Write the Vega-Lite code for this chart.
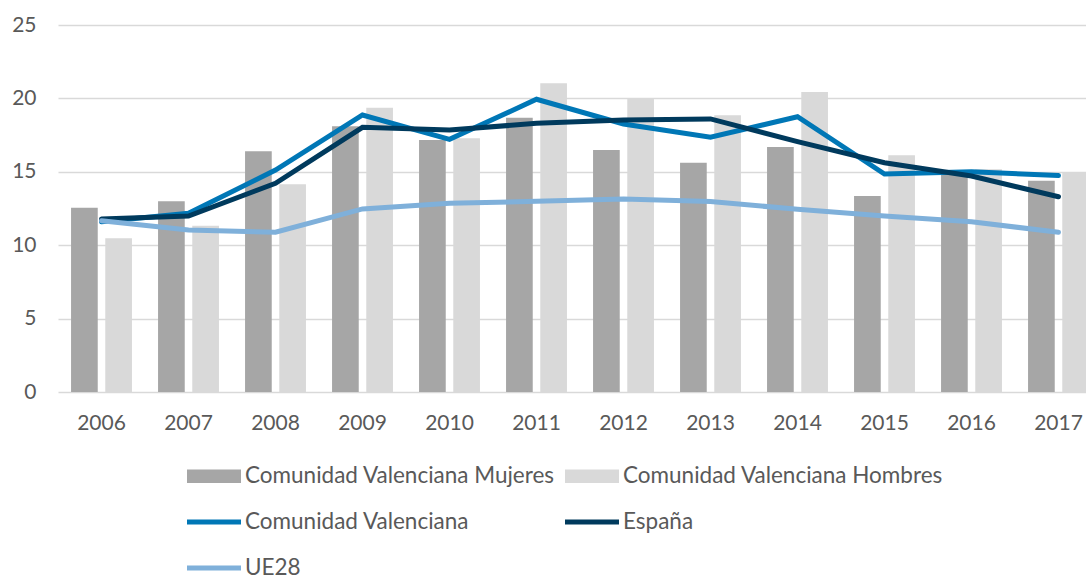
{
  "$schema": "https://vega.github.io/schema/vega-lite/v6.json",
  "width": 1028,
  "height": 367,
  "autosize": {"type": "none"},
  "padding": {"left": 58, "top": 25, "right": 0, "bottom": 183},
  "background": "white",
  "config": {
    "view": {"stroke": null},
    "font": "Lato",
    "axis": {"labelFont": "Lato", "labelFontSize": 21, "labelColor": "#595959", "title": null, "domain": false, "ticks": false},
    "legend": {"labelFont": "Lato"}
  },
  "data": {
    "values": [
      {"year": 2006, "serie": "Comunidad Valenciana Mujeres", "value": 12.55},
      {"year": 2007, "serie": "Comunidad Valenciana Mujeres", "value": 13.0},
      {"year": 2008, "serie": "Comunidad Valenciana Mujeres", "value": 16.4},
      {"year": 2009, "serie": "Comunidad Valenciana Mujeres", "value": 18.1},
      {"year": 2010, "serie": "Comunidad Valenciana Mujeres", "value": 17.17},
      {"year": 2011, "serie": "Comunidad Valenciana Mujeres", "value": 18.69},
      {"year": 2012, "serie": "Comunidad Valenciana Mujeres", "value": 16.49},
      {"year": 2013, "serie": "Comunidad Valenciana Mujeres", "value": 15.62},
      {"year": 2014, "serie": "Comunidad Valenciana Mujeres", "value": 16.69},
      {"year": 2015, "serie": "Comunidad Valenciana Mujeres", "value": 13.35},
      {"year": 2016, "serie": "Comunidad Valenciana Mujeres", "value": 14.85},
      {"year": 2017, "serie": "Comunidad Valenciana Mujeres", "value": 14.39},
      {"year": 2006, "serie": "Comunidad Valenciana Hombres", "value": 10.47},
      {"year": 2007, "serie": "Comunidad Valenciana Hombres", "value": 11.33},
      {"year": 2008, "serie": "Comunidad Valenciana Hombres", "value": 14.15},
      {"year": 2009, "serie": "Comunidad Valenciana Hombres", "value": 19.37},
      {"year": 2010, "serie": "Comunidad Valenciana Hombres", "value": 17.28},
      {"year": 2011, "serie": "Comunidad Valenciana Hombres", "value": 21.03},
      {"year": 2012, "serie": "Comunidad Valenciana Hombres", "value": 19.96},
      {"year": 2013, "serie": "Comunidad Valenciana Hombres", "value": 18.85},
      {"year": 2014, "serie": "Comunidad Valenciana Hombres", "value": 20.44},
      {"year": 2015, "serie": "Comunidad Valenciana Hombres", "value": 16.12},
      {"year": 2016, "serie": "Comunidad Valenciana Hombres", "value": 15.17},
      {"year": 2017, "serie": "Comunidad Valenciana Hombres", "value": 14.99},
      {"year": 2006, "serie": "Comunidad Valenciana", "value": 11.6},
      {"year": 2007, "serie": "Comunidad Valenciana", "value": 12.17},
      {"year": 2008, "serie": "Comunidad Valenciana", "value": 15.12},
      {"year": 2009, "serie": "Comunidad Valenciana", "value": 18.87},
      {"year": 2010, "serie": "Comunidad Valenciana", "value": 17.21},
      {"year": 2011, "serie": "Comunidad Valenciana", "value": 19.94},
      {"year": 2012, "serie": "Comunidad Valenciana", "value": 18.26},
      {"year": 2013, "serie": "Comunidad Valenciana", "value": 17.35},
      {"year": 2014, "serie": "Comunidad Valenciana", "value": 18.75},
      {"year": 2015, "serie": "Comunidad Valenciana", "value": 14.85},
      {"year": 2016, "serie": "Comunidad Valenciana", "value": 15.01},
      {"year": 2017, "serie": "Comunidad Valenciana", "value": 14.74},
      {"year": 2006, "serie": "España", "value": 11.78},
      {"year": 2007, "serie": "España", "value": 11.99},
      {"year": 2008, "serie": "España", "value": 14.22},
      {"year": 2009, "serie": "España", "value": 18.03},
      {"year": 2010, "serie": "España", "value": 17.85},
      {"year": 2011, "serie": "España", "value": 18.3},
      {"year": 2012, "serie": "España", "value": 18.53},
      {"year": 2013, "serie": "España", "value": 18.6},
      {"year": 2014, "serie": "España", "value": 17.05},
      {"year": 2015, "serie": "España", "value": 15.62},
      {"year": 2016, "serie": "España", "value": 14.71},
      {"year": 2017, "serie": "España", "value": 13.3},
      {"year": 2006, "serie": "UE28", "value": 11.67},
      {"year": 2007, "serie": "UE28", "value": 11.03},
      {"year": 2008, "serie": "UE28", "value": 10.88},
      {"year": 2009, "serie": "UE28", "value": 12.47},
      {"year": 2010, "serie": "UE28", "value": 12.85},
      {"year": 2011, "serie": "UE28", "value": 12.99},
      {"year": 2012, "serie": "UE28", "value": 13.15},
      {"year": 2013, "serie": "UE28", "value": 12.97},
      {"year": 2014, "serie": "UE28", "value": 12.45},
      {"year": 2015, "serie": "UE28", "value": 11.99},
      {"year": 2016, "serie": "UE28", "value": 11.6},
      {"year": 2017, "serie": "UE28", "value": 10.88}
    ]
  },
  "encoding": {
    "x": {
      "field": "year",
      "type": "ordinal",
      "scale": {"range": [0, 1044], "paddingInner": 0.3, "paddingOuter": 0.15},
      "axis": {"labelAngle": 0, "labelPadding": 20, "grid": false}
    },
    "y": {
      "field": "value",
      "type": "quantitative",
      "scale": {"domain": [0, 25]},
      "axis": {"values": [0, 5, 10, 15, 20, 25], "grid": true, "gridColor": "#d9d9d9", "gridWidth": 1.5, "labelPadding": 22}
    },
    "color": {
      "field": "serie",
      "type": "nominal",
      "scale": {
        "domain": ["Comunidad Valenciana Mujeres", "Comunidad Valenciana Hombres", "Comunidad Valenciana", "España", "UE28"],
        "range": ["#a6a6a6", "#d9d9d9", "#0077b6", "#003a5d", "#7fb0da"]
      },
      "legend": {
        "title": null,
        "orient": "none",
        "legendX": 129,
        "legendY": 424,
        "columns": 2,
        "direction": "horizontal",
        "padding": 0,
        "rowPadding": 7,
        "columnPadding": 10,
        "labelFontSize": 22.5,
        "labelColor": "#595959",
        "labelOffset": 4,
        "labelLimit": 0,
        "symbolSize": 2916,
        "symbolType": "M-1,-0.25H1V0.25H-1Z",
        "symbolStrokeWidth": 0,
        "symbolOpacity": 1,
        "encode": {
          "symbols": {
            "update": {
              "shape": {"signal": "indexof(['Comunidad Valenciana Mujeres','Comunidad Valenciana Hombres'], datum.value) >= 0 ? 'M-1,-0.25H1V0.25H-1Z' : 'M-1,-0.09H1V0.09H-1Z'"},
              "fill": {"scale": "color", "field": "value"},
              "stroke": {"value": "transparent"},
              "strokeWidth": {"value": 0},
              "opacity": {"value": 1}
            }
          }
        }
      }
    }
  },
  "layer": [
    {
      "transform": [{"filter": {"field": "serie", "oneOf": ["Comunidad Valenciana Mujeres", "Comunidad Valenciana Hombres"]}}],
      "mark": {"type": "bar"},
      "encoding": {
        "xOffset": {"field": "serie", "type": "nominal", "scale": {"domain": ["Comunidad Valenciana Mujeres", "Comunidad Valenciana Hombres"], "paddingInner": 0.22, "paddingOuter": 0}}
      }
    },
    {
      "transform": [{"filter": {"field": "serie", "oneOf": ["Comunidad Valenciana", "España", "UE28"]}}],
      "mark": {"type": "line", "strokeWidth": 5, "strokeCap": "round"},
      "encoding": {}
    }
  ]
}
